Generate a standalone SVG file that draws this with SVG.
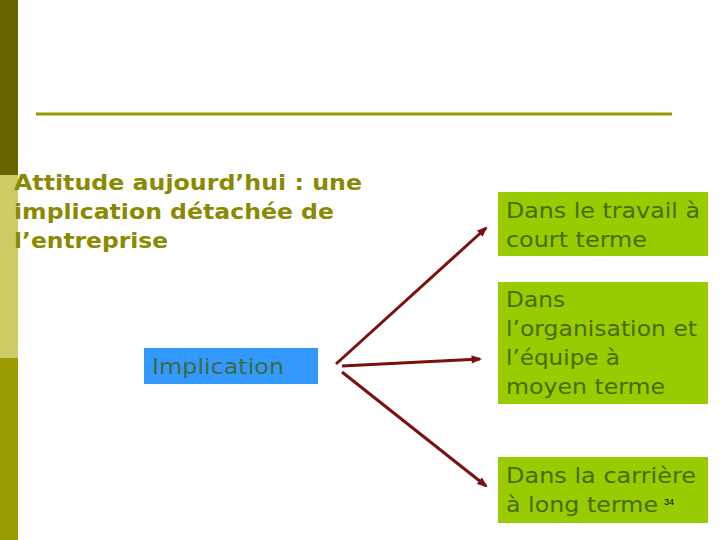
<svg xmlns="http://www.w3.org/2000/svg" width="720" height="540" viewBox="0 0 720 540">
<style>
.title{font-family:"DejaVu Sans",Verdana,sans-serif;font-weight:bold;font-size:22px;fill:#8a8a00}
.box{fill:#99cc00}
.bt{font-family:"DejaVu Sans",Verdana,sans-serif;font-size:22px;fill:#4a6a00}
.arr{stroke:#7a1010;stroke-width:3;fill:none;marker-end:url(#ah)}
</style>
<defs>
<marker id="ah" viewBox="0 0 10 10" refX="8" refY="5" markerWidth="4" markerHeight="3.5" orient="auto" markerUnits="strokeWidth">
<path d="M0,1 L10,5 L0,9 z" fill="#7a1010"/>
</marker>
</defs>
<rect width="720" height="540" fill="#ffffff"/>
<g id="sidebar">
<rect x="0" y="0" width="18" height="175" fill="#666600"/>
<rect x="0" y="175" width="18" height="183" fill="#cccc66"/>
<rect x="0" y="358" width="18" height="182" fill="#999900"/>
</g>
<line x1="36" y1="114" x2="672" y2="114" stroke="#999900" stroke-width="3"/>
<g id="title">
<text class="title" x="14" y="190" textLength="348" lengthAdjust="spacingAndGlyphs">Attitude aujourd’hui : une</text>
<text class="title" x="14" y="219" textLength="320" lengthAdjust="spacingAndGlyphs">implication détachée de</text>
<text class="title" x="14" y="248" textLength="154" lengthAdjust="spacingAndGlyphs">l’entreprise</text>
</g>
<g id="implication">
<rect x="144" y="348" width="174" height="36" fill="#3399ff"/>
<text x="152" y="374" font-family="DejaVu Sans,Verdana,sans-serif" font-size="22" fill="#3d6b3d" textLength="132" lengthAdjust="spacingAndGlyphs">Implication</text>
</g>
<g id="court">
<rect class="box" x="498" y="192" width="210" height="64"/>
<text class="bt" x="506" y="218" textLength="194" lengthAdjust="spacingAndGlyphs">Dans le travail à</text>
<text class="bt" x="506" y="247" textLength="141" lengthAdjust="spacingAndGlyphs">court terme</text>
</g>
<g id="moyen">
<rect class="box" x="498" y="282" width="210" height="122"/>
<text class="bt" x="506" y="307" textLength="59" lengthAdjust="spacingAndGlyphs">Dans</text>
<text class="bt" x="506" y="336" textLength="191" lengthAdjust="spacingAndGlyphs">l’organisation et</text>
<text class="bt" x="506" y="365" textLength="114" lengthAdjust="spacingAndGlyphs">l’équipe à</text>
<text class="bt" x="506" y="394" textLength="159" lengthAdjust="spacingAndGlyphs">moyen terme</text>
</g>
<g id="long">
<rect class="box" x="498" y="457" width="210" height="66"/>
<text class="bt" x="506" y="483" textLength="190" lengthAdjust="spacingAndGlyphs">Dans la carrière</text>
<text class="bt" x="506" y="512" textLength="152" lengthAdjust="spacingAndGlyphs">à long terme</text>
<text x="664" y="505" font-family="Liberation Sans,Arial,sans-serif" font-size="9" fill="#000000">34</text>
</g>
<g id="connectors">
<line class="arr" x1="336" y1="364" x2="486" y2="228"/>
<line class="arr" x1="342" y1="366" x2="480" y2="359"/>
<line class="arr" x1="342" y1="372" x2="486" y2="486"/>
</g>
</svg>
